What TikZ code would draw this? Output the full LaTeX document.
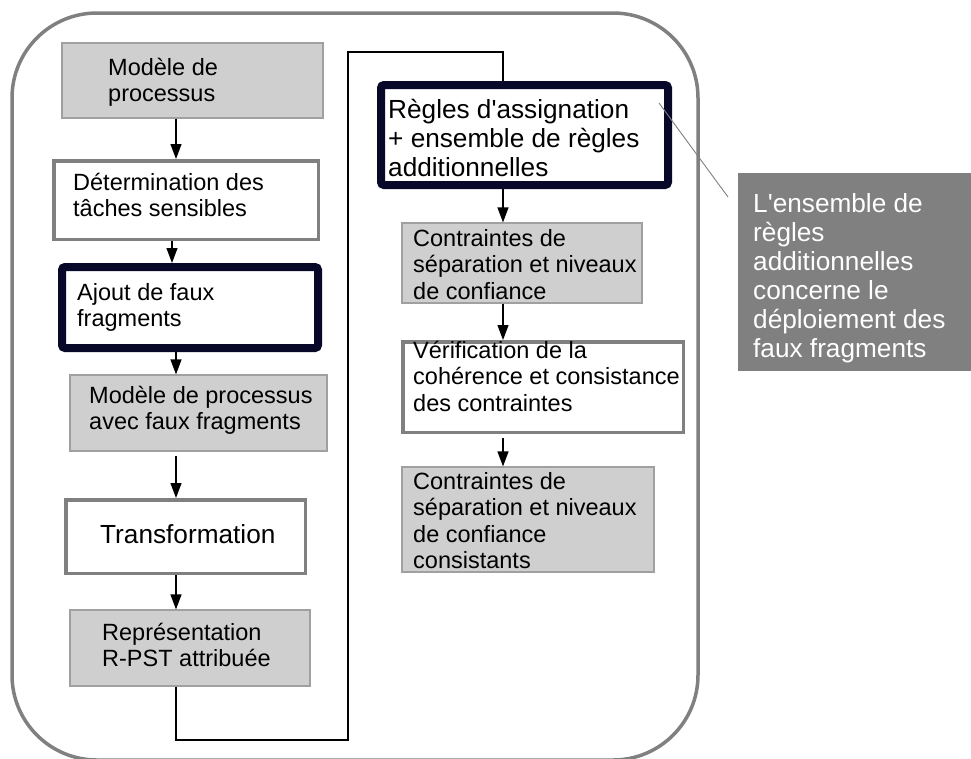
\documentclass[tikz,border=0pt]{standalone}
\usepackage{fontspec}
\setmainfont{Liberation Sans}[Ligatures=TeXOff]
\usetikzlibrary{arrows.meta}
\definecolor{boxfill}{RGB}{207,207,207}
\definecolor{boxline}{RGB}{160,160,160}
\definecolor{thickgray}{RGB}{128,128,128}
\definecolor{navyd}{RGB}{8,8,40}
\definecolor{callfill}{RGB}{128,128,128}
\tikzset{
  grayboxs/.style={draw=boxline, fill=boxfill, line width=1.2pt, inner sep=0pt, rectangle},
  whiteboxs/.style={draw=thickgray, fill=white, line width=3.5pt, inner sep=0pt, rectangle},
  navyboxs/.style={draw=navyd, fill=white, line width=8pt, inner sep=0pt, rectangle, rounded corners=3pt},
  txt/.style={anchor=north west, inner sep=0pt, align=left, font=\fontsize{23.5}{26.5}\selectfont},
  bigtxt/.style={anchor=north west, inner sep=0pt, align=left, font=\fontsize{26.2}{29}\selectfont},
  arr/.style={-{Triangle[length=15pt,width=11pt]}, line width=1.2pt, black},
  link/.style={line width=1.2pt, black},
}
\begin{document}
\begin{tikzpicture}[x=1pt,y=-1pt]
\useasboundingbox (0,0) rectangle (971,758);
% outer frame
\draw[thickgray, line width=3.5pt, rounded corners=85pt] (12,13) rectangle (698,760);

% boxes
\node[grayboxs, minimum width=261pt, minimum height=75pt] (b1) at (192.5,80.5) {};
\node[whiteboxs, minimum width=264.5pt, minimum height=78.5pt] (b2) at (186,200) {};
\node[navyboxs, minimum width=256pt, minimum height=81pt] (b3) at (190,307.5) {};
\node[grayboxs, minimum width=257pt, minimum height=76pt] (b4) at (198.5,413) {};
\node[whiteboxs, minimum width=239.5pt, minimum height=73.5pt] (b5) at (185.5,536.5) {};
\node[grayboxs, minimum width=240pt, minimum height=76pt] (b6) at (190,648) {};
\node[navyboxs, minimum width=287pt, minimum height=100pt] (b7) at (524.5,135) {};
\node[grayboxs, minimum width=240pt, minimum height=80pt] (b8) at (522,263) {};
\node[whiteboxs, minimum width=280.5pt, minimum height=90.5pt] (b9) at (543,387) {};
\node[grayboxs, minimum width=252pt, minimum height=105pt] (b10) at (528,519.5) {};
\node[fill=callfill, inner sep=0pt, minimum width=242pt, minimum height=198pt] (call) at (859,272) {};

% texts
\node[txt] (t1) at (108,56.5) {\strut Modèle de\\processus};
\node[txt] (t2) at (73,171.5) {\strut Détermination des\\tâches sensibles};
\node[txt] (t3) at (77,281.5) {\strut Ajout de faux\\fragments};
\node[txt] (t4) at (89,384.5) {\strut Modèle de processus\\avec faux fragments};
\node[bigtxt] (t5) at (100,522.7) {\strut Transformation};
\node[txt] (t6) at (102,621.5) {\strut Représentation\\R-PST attribuée};
\node[bigtxt] (t7) at (388,97.7) {\strut Règles d'assignation\\+ ensemble de règles\\additionnelles};
\node[txt] (t8) at (413,227.5) {\strut Contraintes de\\séparation et niveaux\\de confiance};
\node[txt] (t9) at (413,339.5) {\strut Vérification de la\\cohérence et consistance\\des contraintes};
\node[txt] (t10) at (413,470.5) {\strut Contraintes de\\séparation et niveaux\\de confiance\\consistants};
\node[bigtxt, text=white] (tc) at (753,191.7) {\strut L'ensemble de\\règles\\additionnelles\\concerne le\\déploiement des\\faux fragments};

% arrows
\coordinate (axL) at (176,0);
\coordinate (axM) at (172,0);
\coordinate (axR) at (503,0);
\draw[arr] (b1.south -| axL) -- (b2.north -| axL);
\draw[arr] (b2.south -| axM) -- (b3.north -| axM);
\draw[arr] (b3.south -| axL) -- (b4.north -| axL);
\draw[arr, shorten <=4pt] (b4.south -| axL) -- (b5.north -| axL);
\draw[arr] (b5.south -| axL) -- (b6.north -| axL);
\draw[arr] (b7.south -| axR) -- (b8.north -| axR);
\draw[arr] (b8.south -| axR) -- (b9.north -| axR);
\draw[arr, shorten <=4pt] (b9.south -| axR) -- (b10.north -| axR);

% long connector
\coordinate (c1) at (348,740);
\coordinate (c2) at (503,52);
\draw[link] (b6.south -| axL) |- (c1) |- (c2) -- (b7.north -| c2);

% callout line
\coordinate (p1) at (659,103);
\coordinate (p2) at (728,197);
\draw[thickgray, line width=0.9pt] (p1) -- (p2);
\end{tikzpicture}
\end{document}
